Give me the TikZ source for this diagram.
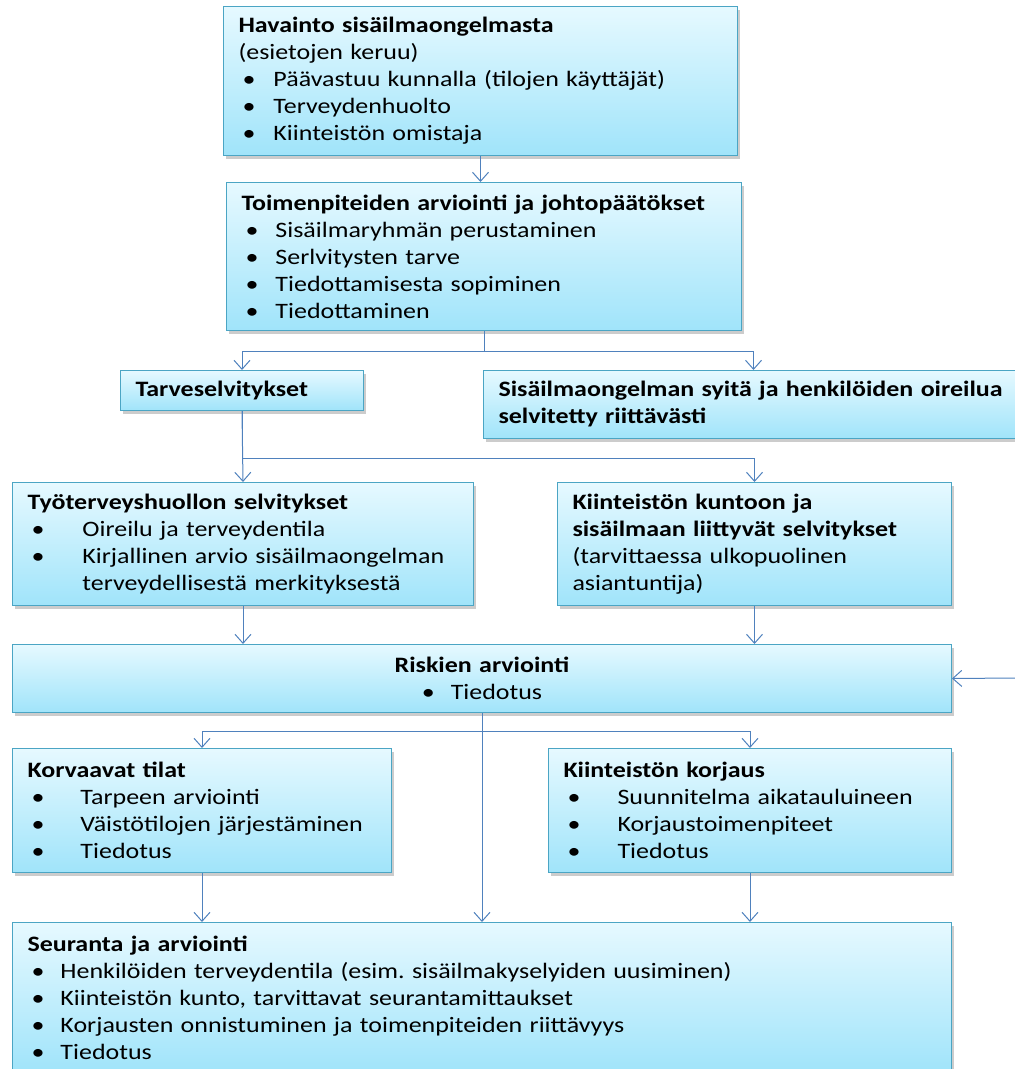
\documentclass[tikz,border=0pt]{standalone}
\usepackage{fontspec}
\setmainfont[FakeStretch=1.18]{Carlito}
\usetikzlibrary{arrows.meta,shadows}
\definecolor{reuna}{RGB}{75,165,196}
\definecolor{ylavari}{RGB}{230,249,255}
\definecolor{alavari}{RGB}{160,228,250}
\definecolor{viiva}{RGB}{79,129,189}
\tikzset{
  laatikko/.style={draw=reuna, line width=1pt, top color=ylavari, bottom color=alavari,
    drop shadow={shadow xshift=2pt, shadow yshift=-3pt, fill=black!40},
    anchor=north west, align=left, inner xsep=15pt, inner ysep=0pt,
    font=\fontsize{22}{27}\selectfont},
  nuoli/.style={draw=viiva, line width=1pt, -{Straight Barb[length=9pt,width=16pt]}}
}
\newcommand{\kohta}[1][35pt]{\makebox[#1][l]{\hspace{4pt}•}}
\frenchspacing

\begin{document}
\begin{tikzpicture}[x=1pt, y=-1pt]
    \useasboundingbox (0,0) rectangle (1015,1069);
    % laatikot
    \node[laatikko, text width=484, minimum height=149] (havainto) at (223,6)
        {\textbf{Havainto sisäilmaongelmasta}\\(esietojen keruu)\\
         \kohta Päävastuu kunnalla (tilojen käyttäjät)\\
         \kohta Terveydenhuolto\\
         \kohta Kiinteistön omistaja};
    \node[laatikko, text width=485, minimum height=148] (toimenpiteet) at (226,182)
        {\textbf{Toimenpiteiden arviointi ja johtopäätökset}\\
         \kohta[34pt]Sisäilmaryhmän perustaminen\\
         \kohta[34pt]Serlvitysten tarve\\
         \kohta[34pt]Tiedottamisesta sopiminen\\
         \kohta[34pt]Tiedottaminen};
    \node[laatikko, text width=213, minimum height=40] (tarve) at (120,370)
        {\textbf{Tarveselvitykset}};
    \node[laatikko, text width=510, minimum height=68] (riittava) at (483,370)
        {\textbf{Sisäilmaongelman syitä ja henkilöiden oireilua}\\
         \textbf{selvitetty riittävästi}};
    \node[laatikko, text width=431, minimum height=123] (tyoterveys) at (12,482)
        {\textbf{Työterveyshuollon selvitykset}\\
         \kohta[55pt]Oireilu ja terveydentila\\
         \kohta[55pt]Kirjallinen arvio sisäilmaongelman\\
         \hspace*{55pt}terveydellisestä merkityksestä};
    \node[laatikko, text width=364, minimum height=123] (kuntoon) at (557,482)
        {\textbf{Kiinteistön kuntoon ja}\\
         \textbf{sisäilmaan liittyvät selvitykset}\\
         (tarvittaessa ulkopuolinen\\
         asiantuntija)};
    \node[laatikko, text width=909, minimum height=68, align=center] (riskit) at (12,644)
        {\textbf{Riskien arviointi}\\
         •\hspace{16pt}Tiedotus};
    \node[laatikko, text width=349, minimum height=124] (korvaavat) at (12,748)
        {\textbf{Korvaavat tilat}\\
         \kohta[53pt]Tarpeen arviointi\\
         \kohta[53pt]Väistötilojen järjestäminen\\
         \kohta[53pt]Tiedotus};
    \node[laatikko, text width=373, minimum height=124] (korjaus) at (548,748)
        {\textbf{Kiinteistön korjaus}\\
         \kohta[54pt]Suunnitelma aikatauluineen\\
         \kohta[54pt]Korjaustoimenpiteet\\
         \kohta[54pt]Tiedotus};
    \node[laatikko, text width=909, minimum height=150] (seuranta) at (12,922)
        {\textbf{Seuranta ja arviointi}\\
         \kohta[33pt]Henkilöiden terveydentila (esim. sisäilmakyselyiden uusiminen)\\
         \kohta[33pt]Kiinteistön kunto, tarvittavat seurantamittaukset\\
         \kohta[33pt]Korjausten onnistuminen ja toimenpiteiden riittävyys\\
         \kohta[33pt]Tiedotus};
    \coordinate (paluu) at (1015,678);
    % nuolet
    \draw[nuoli] (havainto.south) -- (havainto.south |- toimenpiteet.north);
    \draw[nuoli] (toimenpiteet.south) -- ++(0,20) -| (tarve.north);
    \draw[nuoli] (toimenpiteet.south) -- ++(0,20) -| (riittava.north);
    \draw[nuoli] (tarve.south) -- (tyoterveys.north);
    \draw[nuoli] (tarve.south) -- ++(0,47) -| (kuntoon.north);
    \draw[nuoli] (tyoterveys.south) -- (tyoterveys.south |- riskit.north);
    \draw[nuoli] (kuntoon.south) -- (kuntoon.south |- riskit.north);
    \draw[nuoli] (paluu) -- (riskit.east);
    \draw[nuoli] (riskit.south) -- ++(0,18) -| (korvaavat.north);
    \draw[nuoli] (riskit.south) -- ++(0,18) -| (korjaus.north);
    \draw[nuoli] (riskit.south) -- (riskit.south |- seuranta.north);
    \draw[nuoli] (korvaavat.south) -- (korvaavat.south |- seuranta.north);
    \draw[nuoli] (korjaus.south) -- (korjaus.south |- seuranta.north);
\end{tikzpicture}
\end{document}
